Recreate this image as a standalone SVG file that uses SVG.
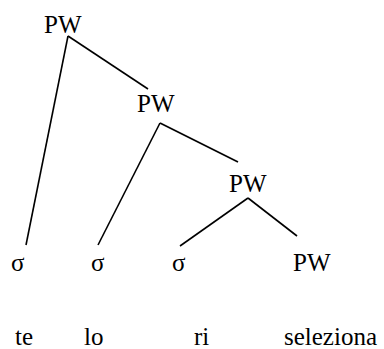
<svg xmlns="http://www.w3.org/2000/svg" width="384" height="349" viewBox="0 0 384 349">
<rect width="384" height="349" fill="#fff"/>
<g id="connectors" stroke="#000" stroke-width="1.6" fill="none">
<line x1="68" y1="36" x2="26" y2="245"/>
<line x1="68" y1="36" x2="148" y2="89"/>
<line x1="160" y1="123" x2="98" y2="245"/>
<line x1="160" y1="123" x2="238" y2="162"/>
<line x1="248" y1="198" x2="180" y2="246"/>
<line x1="248" y1="198" x2="297" y2="236"/>
</g>
<g id="pw1"><text x="44" y="33" style="font-family:'Liberation Serif',serif;font-size:25px">PW</text></g>
<g id="pw2"><text x="137" y="112" style="font-family:'Liberation Serif',serif;font-size:25px">PW</text></g>
<g id="pw3"><text x="229" y="191.5" style="font-family:'Liberation Serif',serif;font-size:25px">PW</text></g>
<g id="s1"><text x="11" y="270.5" style="font-family:'Liberation Serif',serif;font-size:25px">σ</text></g>
<g id="s2"><text x="91" y="270.5" style="font-family:'Liberation Serif',serif;font-size:25px">σ</text></g>
<g id="s3"><text x="172" y="270.5" style="font-family:'Liberation Serif',serif;font-size:25px">σ</text></g>
<g id="pw4"><text x="293" y="270.5" style="font-family:'Liberation Serif',serif;font-size:25px">PW</text></g>
<g id="w1"><text x="15" y="345" style="font-family:'Liberation Serif',serif;font-size:25px">te</text></g>
<g id="w2"><text x="84" y="345" style="font-family:'Liberation Serif',serif;font-size:25px">lo</text></g>
<g id="w3"><text x="194" y="345" style="font-family:'Liberation Serif',serif;font-size:25px">ri</text></g>
<g id="w4"><text x="284" y="345" style="font-family:'Liberation Serif',serif;font-size:25px">seleziona</text></g>
</svg>
